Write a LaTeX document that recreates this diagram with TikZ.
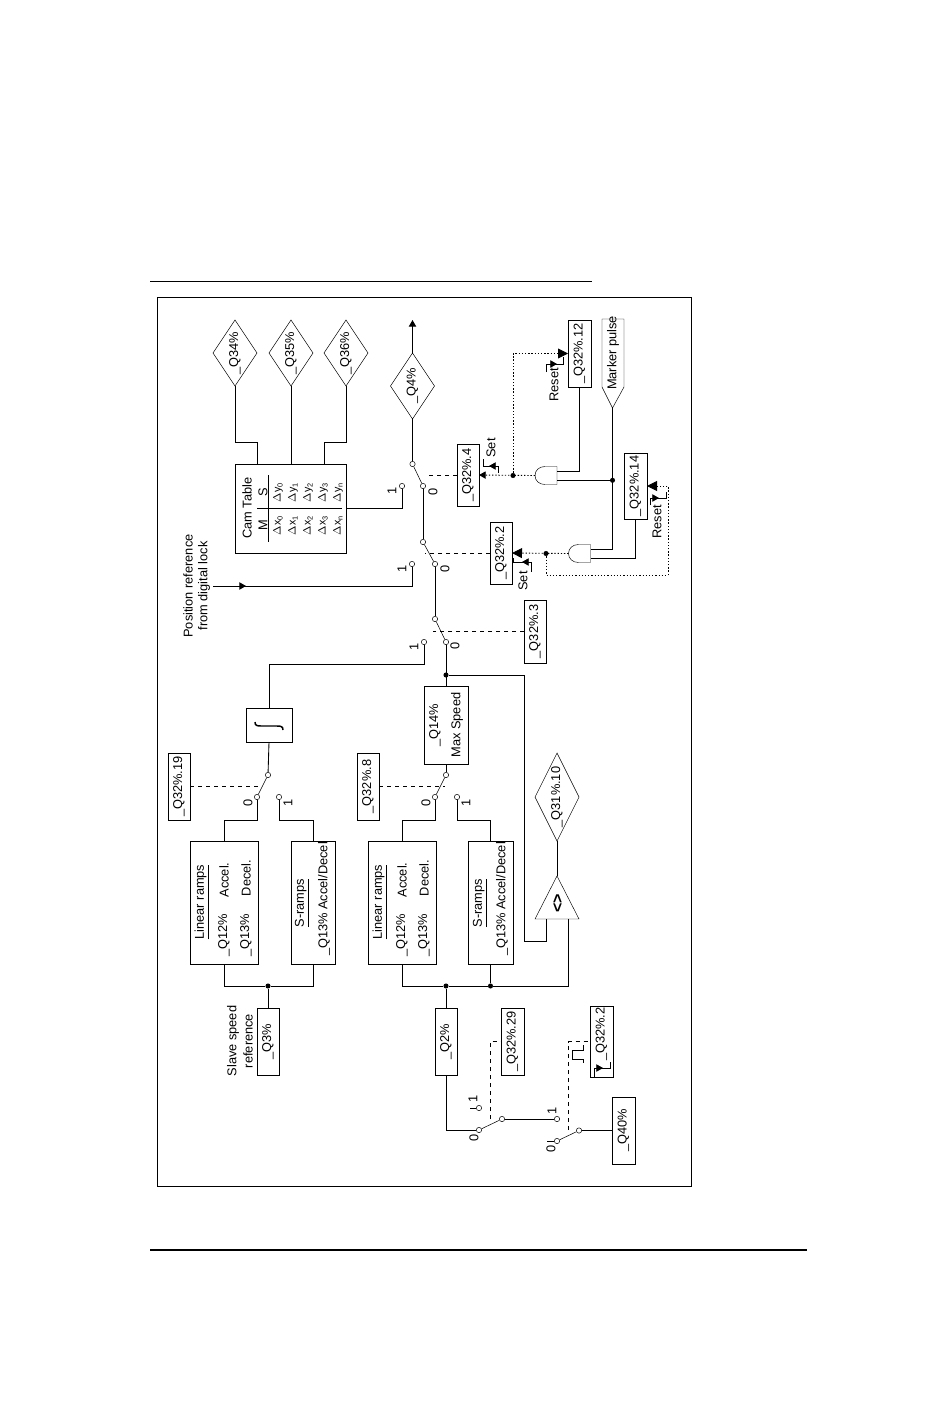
\documentclass[tikz,border=0pt]{standalone}
\usepackage{fontspec}
\setmainfont{Liberation Sans}
\usetikzlibrary{arrows.meta,shapes.geometric}
\newcommand\px{0.75pt}
\newcommand\sz{\fontsize{9.6}{11}\selectfont}
\newcommand\rot[1]{\rotatebox{90}{#1}}
\newcommand\dl[2]{$\Delta$#1\raisebox{-1.5pt}{\fontsize{5.5}{6}\selectfont #2}}
\tikzstyle{wire}=[line width=.65pt,line join=miter]
\tikzstyle{arm}=[line width=.4pt]
\tikzstyle{ctrl}=[line width=.65pt,dash pattern=on 3pt off 3pt]
\tikzstyle{fb}=[line width=.65pt,dash pattern=on 1pt off 1.4pt]
\tikzstyle{bigarr}=[-{Triangle[length=7.5pt,width=7.5pt]}]
\tikzstyle{smallarr}=[-{Triangle[length=5pt,width=5.5pt]}]
\tikzstyle{sigbox}=[draw,line width=.65pt,inner sep=0pt,outer sep=0pt]
\tikzstyle{sigdia}=[draw,diamond,line width=.35pt,inner sep=0pt,outer sep=0pt,shape aspect=.667]
\tikzstyle{contact}=[draw,circle,line width=.4pt,fill=white,inner sep=0pt,minimum size=4pt]
\tikzstyle{junct}=[circle,fill=black,inner sep=0pt,minimum size=3.8pt]
\tikzstyle{lbl}=[rotate=90,inner sep=0pt]
% gate with its flat side to the right: out on the left, two inputs on the right
\newcommand\andgate[3]{%
  \coordinate (#1o) at (#2-11,#3);
  \coordinate (#1a) at (#2+11,#3-4.2);
  \coordinate (#1b) at (#2+11,#3+4.8);
  \draw[line width=.35pt] (#2+11,#3-9) -- (#2-1,#3-9) .. controls (#2-7,#3-9) and (#2-11,#3-5) .. (#2-11,#3)
    .. controls (#2-11,#3+5) and (#2-7,#3+9) .. (#2-1,#3+9) -- (#2+11,#3+9) -- cycle;
}

\begin{document}
\begin{tikzpicture}[x=\px,y=-\px,every node/.append style={font=\sz}]
  \useasboundingbox (0,0) rectangle (950,1420);
  % page rules and frame
  \draw[line width=.7pt] (150,281) -- (592,281);
  \draw[line width=1.6pt] (150,1250) -- (807,1250);
  \draw[line width=.5pt] (157,297) rectangle (691,1186);

  % boxes with their text
  \foreach \n/\x/\y/\w/\h/\t in {q32d4/468/475/22/62/\_Q32\%.4, q32d12/579.5/353.5/23/67/\_Q32\%.12,
      q32d14/635.5/486/23/66/\_Q32\%.14, q32d2/501/553/22/62/\_Q32\%.2, q32d3/535/631.5/22/63/\_Q32\%.3,
      q32d19/179/786.5/22/67/\_Q32\%.19, q32d8/368/786.5/22/67/\_Q32\%.8, q3/268/1041.5/22/67/\_Q3\%,
      q2/446/1041.5/22/67/\_Q2\%, q32d29/512.5/1041.5/23/67/\_Q32\%.29, q40/623.5/1130.5/23/67/\_Q40\%}
    \node[sigbox,minimum width=\w*\px,minimum height=\h*\px] (\n) at (\x,\y) {\rot{\t}};
  % empty boxes
  \foreach \n/\x/\y/\w/\h in {cam/290.5/508.5/111/89, intg/269/725/46/34, q14/446/725/44/78,
      lin1/224/902.5/68/123, s1/313/902.5/44/123, lin2/402/902.5/68/123, s2/490.5/902.5/45/123,
      q32d2b/601.5/1041.5/23/71}
    \node[sigbox,minimum width=\w*\px,minimum height=\h*\px] (\n) at (\x,\y) {};
  % integral sign, lying on its side
  \draw[line width=1.1pt] (255,722) .. controls (255,725.5) and (257,726) .. (261,726) -- (277,726)
    .. controls (281,726) and (283,726.5) .. (283,730);

  % diamonds
  \foreach \n/\x/\y/\t in {q34/235/353/\_Q34\%, q35/291/353/\_Q35\%, q36/346/353/\_Q36\%, q4/412.5/386/\_Q4\%}
    \node[sigdia,minimum width=44*\px,minimum height=66*\px] (\n) at (\x,\y) {\rot{\t}};
  \node[sigdia,shape aspect=.5,minimum width=44*\px,minimum height=88*\px] (q31) at (557,797) {\rot{\_Q31\%.10}};

  % and gates
  \andgate{gatea}{546}{475.5}
  \andgate{gateb}{579.5}{553.5}

  % marker pulse
  \draw[line width=.35pt] (602,319) -- (624,319) -- (624,387) -- (612.5,408) -- (602,387) -- cycle;
  \coordinate (mk) at (612.5,408);
  \node[lbl] (mktxt) at (613,353) {Marker pulse};

  % comparator
  \coordinate (cmpT) at (557,876);
  \coordinate (cmpA) at (546,919);
  \coordinate (cmpB) at (568.5,919);
  \draw[line width=.35pt] (cmpT) -- (579,919) -- (535,919) -- cycle;
  \node[lbl] (cmpsym) at (558,903) {\fontsize{12}{12}\selectfont\bfseries <>};

  % switch contacts
  \foreach \n/\x/\y in {swaT/412.5/464, swaZ/423/486, swaO/402/486, swbT/423/542, swbZ/435/564, swbO/412/564,
      swcT/435/619, swcZ/446/642, swcO/424/642, swdT/268/775, swdZ/257/797, swdO/279/797,
      sweT/446/775, sweZ/435/797, sweO/457/797, swfT/502/1119, swfZ/479/1130, swfO/479/1108,
      swgT/579/1130.5, swgZ/557/1141, swgO/557/1119}
    \node[contact] (\n) at (\x,\y) {};
  \foreach \a/\b in {swaT/swaZ, swbT/swbZ, swcT/swcZ, swdT/swdZ, sweT/sweZ, swfT/swfZ, swgT/swgZ}
    \draw[arm] (\a) -- (\b);

  % junctions
  \foreach \n/\x/\y in {jmark/612.5/480.3, jset/513/475.5, jres/546/553.5, jq14/446/675, jl1/268/986,
      jl2/446/986, js2/490.5/986}
    \node[junct] (\n) at (\x,\y) {};

  % helper points
  \foreach \n/\x/\y in {tp/412.5/320, posref/213/586, cama/257.5/464, camc/324/464, fbr/668/575, cmpe/524/941,
      arma/425/475, armb/425/553, armc/433/631.5, armd/262/786.5, arme/445/786.5, armf/490/1119, armg/568/1130}
    \coordinate (\n) at (\x,\y);

  % signal lines
  \draw[wire] (q34.south) -- ++(0,56.5) -| (cama);
  \draw[wire] (q35.south) -- (q35.south |- cam.north);
  \draw[wire] (q36.south) -- ++(0,56.5) -| (camc);
  \draw[wire] (cam.east) -| (swaO);
  \draw[wire] (swaT) -- (q4.south);
  \draw[wire,smallarr] (q4.north) -- (tp);
  \draw[wire] (swaZ) -- (swbT);
  \draw[wire] (swbZ) -- (swcT);
  \draw[wire] (swbO) |- (posref);
  \draw[wire,smallarr] (posref) -- (246,586);
  \draw[wire] (swcZ) -- (q14.north);
  \draw[wire] (swcO) -- ++(0,22) -| (intg.north);
  \draw[wire] (intg.south) -- (swdT);
  \draw[wire] (swdZ) -- ++(0,23) -| (lin1.north);
  \draw[wire] (swdO) -- ++(0,23) -| (s1.north);
  \draw[wire] (lin1.south) |- (jl1);
  \draw[wire] (jl1) -| (s1.south);
  \draw[wire] (jl1) -- (q3.north);
  \draw[wire] (q14.south) -- (sweT);
  \draw[wire] (sweZ) -- ++(0,23) -| (lin2.north);
  \draw[wire] (sweO) -- ++(0,23) -| (s2.north);
  \draw[wire] (lin2.south) |- (jl2);
  \draw[wire] (jl2) -- (js2) -| (cmpB);
  \draw[wire] (s2.south) -- (js2);
  \draw[wire] (jl2) -- (q2.north);
  \draw[wire] (jq14) -| (cmpe) -| (cmpA);
  \draw[wire] (cmpT) -- (q31.south);
  \draw[wire] (q2.south) |- (swfZ);
  \draw[wire] (swfT) -- (swgO);
  \draw[wire] (swgT) -- (q40.west);
  \draw[wire] (swfO) -- ++(-9,0);
  \draw[wire] (swgZ) -- ++(-10,0);
  \draw[wire] (q32d12.south) |- (gateaa);
  \draw[wire] (gateab) -- (jmark);
  \draw[wire] (mk) |- (gateba);
  \draw[wire] (q32d14.south) |- (gatebb);

  % control lines
  \draw[ctrl] (q32d4.west) -- (arma);
  \draw[ctrl] (q32d2.west) -- (armb);
  \draw[ctrl] (q32d3.west) -- (armc);
  \draw[ctrl] (q32d19.east) -- (armd);
  \draw[ctrl] (q32d8.east) -- (arme);
  \draw[ctrl] (armf) |- (q32d29.west);
  \draw[ctrl] (armg) |- (q32d2b.west);

  % set and reset lines
  \draw[fb,smallarr] (gateao) -- (q32d4.east);
  \draw[fb,bigarr] (gatebo) -- (q32d2.east);
  \draw[fb,bigarr] (jset) |- (q32d12.west);
  \draw[fb] (jres) |- (fbr);
  \draw[fb,bigarr] (fbr) |- (q32d14.east);

  % edge symbols
  \draw[line width=.6pt] (483,459) -- (483,466) -- (498,466) -- (498,473);
  \draw[smallarr,line width=.6pt] (496,466) -- (489,466);
  \draw[line width=.6pt] (513,558) -- (513,562) -- (531,562) -- (531,572);
  \draw[smallarr,line width=.6pt] (529,562) -- (522,562);
  \draw[line width=.6pt] (546,372) -- (546,364) -- (563,364) -- (563,357);
  \draw[smallarr,line width=.6pt] (550,364) -- (557,364);
  \draw[line width=.6pt] (650,505) -- (650,498) -- (666,498) -- (666,492);
  \draw[smallarr,line width=.6pt] (652,498) -- (659,498);
  \draw[line width=.6pt] (594,1077) -- (594,1068) -- (610,1068) -- (610,1062);
  \draw[smallarr,line width=.6pt] (596,1068) -- (603,1068);
  \draw[line width=.6pt] (583,1045) -- (583,1050) -- (572,1050) -- (572,1059) -- (583,1059) -- (583,1063);

  % cam table rules
  \draw[line width=.6pt] (257,508) -- (342,508);
  \draw[line width=.6pt] (268.6,475) -- (268.6,542);
  \foreach \r/\x/\i in {0/278/0, 1/293/1, 2/308/2, 3/323/3, n/338/n} {
    \node[lbl,font=\fontsize{8}{9}\selectfont] (mx\r) at (\x,526) {\dl{x}{\i}};
    \node[lbl,font=\fontsize{8}{9}\selectfont] (my\r) at (\x,493) {\dl{y}{\i}};
  }

  % texts
  \foreach \n/\x/\y/\t in {camt/247/508/Cam Table, camm/263/525/M, cams/263/492/S,
      pos/188/586/Position reference, dig/204/586/from digital lock,
      sl1/233/1041/Slave speed, sl2/248/1041/reference,
      hd1/202/902/\underline{Linear ramps}, a1/224/880/Accel., q12a/224/935/\_Q12\%, d1/246/878/Decel., q13a/246/935/\_Q13\%,
      hd2/302/903/\underline{S-ramps}, sa1/324/899/{\_Q13\% Accel/Decel},
      hd3/380/902/\underline{Linear ramps}, a2/402/880/Accel., q12b/402/935/\_Q12\%, d2/424/878/Decel., q13b/424/935/\_Q13\%,
      hd4/480/903/\underline{S-ramps}, sa2/502/899/{\_Q13\% Accel/Decel},
      q14t/435/725/\_Q14\%, maxs/457/725/Max Speed, q32d2bt/601.5/1034/\_Q32\%.2,
      rs1/554/385/Reset, rs2/657/522/Reset, st1/491/448/Set, st2/523/581/Set}
    \node[lbl] (\n) at (\x,\y) {\t};

  % switch position labels
  \foreach \n/\x/\y/\t in {la1/392/491/1, la0/433/492/0, lb1/402/569/1, lb0/445/569/0, lc1/414/647/1, lc0/455/646/0,
      ld0/248/803/0, ld1/288/803/1, le0/426/803/0, le1/466/803/1, lf1/473/1099/1, lf0/474/1138/0,
      lg1/552/1111/1, lg0/551/1149/0}
    \node[lbl] (\n) at (\x,\y) {\t};
\end{tikzpicture}
\end{document}
